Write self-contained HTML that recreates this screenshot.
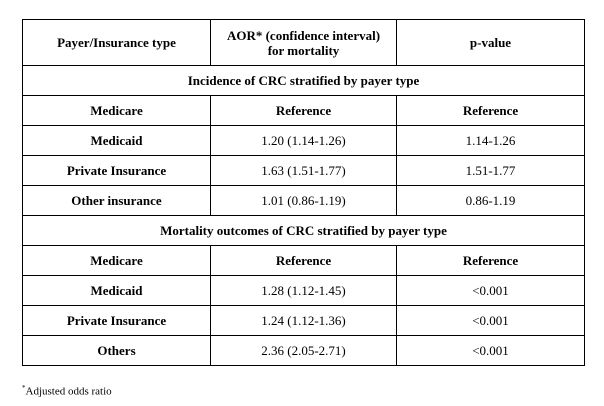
<!DOCTYPE html>
<html><head><meta charset="utf-8"><style>
body{margin:0;width:604px;height:406px;background:#fff;font-family:"Liberation Serif",serif;color:#000;position:relative;overflow:hidden}
table{position:absolute;left:22px;top:19px;border-collapse:collapse;table-layout:fixed;width:562px;font-size:13px}
td{border:1.5px solid #000;text-align:center;padding:0;height:29px;line-height:15px}
tr.h td{height:45px}
td.b{font-weight:bold}
.note{position:absolute;left:22px;top:384px;font-size:11px}
</style></head><body>
<table>
<colgroup><col style="width:188px"><col style="width:186px"><col style="width:188px"></colgroup>
<tr class="h"><td class="b">Payer/Insurance type</td><td class="b">AOR* (confidence interval)<br>for mortality</td><td class="b">p-value</td></tr>
<tr><td class="b" colspan="3">Incidence of CRC stratified by payer type</td></tr>
<tr><td class="b">Medicare</td><td class="b">Reference</td><td class="b">Reference</td></tr>
<tr><td class="b">Medicaid</td><td>1.20 (1.14-1.26)</td><td>1.14-1.26</td></tr>
<tr><td class="b">Private Insurance</td><td>1.63 (1.51-1.77)</td><td>1.51-1.77</td></tr>
<tr><td class="b">Other insurance</td><td>1.01 (0.86-1.19)</td><td>0.86-1.19</td></tr>
<tr><td class="b" colspan="3">Mortality outcomes of CRC stratified by payer type</td></tr>
<tr><td class="b">Medicare</td><td class="b">Reference</td><td class="b">Reference</td></tr>
<tr><td class="b">Medicaid</td><td>1.28 (1.12-1.45)</td><td>&lt;0.001</td></tr>
<tr><td class="b">Private Insurance</td><td>1.24 (1.12-1.36)</td><td>&lt;0.001</td></tr>
<tr><td class="b">Others</td><td>2.36 (2.05-2.71)</td><td>&lt;0.001</td></tr>
</table>
<div class="note"><sup style="font-size:7px">*</sup>Adjusted odds ratio</div>
</body></html>
